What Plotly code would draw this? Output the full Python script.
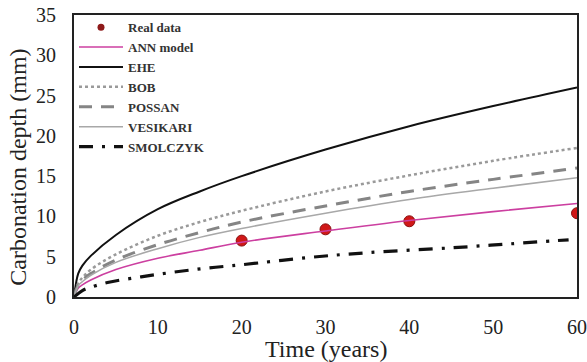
import plotly.graph_objects as go

# ---- data ----
real_t = [20, 30, 40, 60]
real_d = [7.0, 8.4, 9.4, 10.4]

model_t = [0, 0.5, 1, 2, 5, 10, 15, 20, 30, 40, 50, 60]
ann_d = [0, 1.1, 1.5, 2.1, 3.4, 4.8, 5.8, 6.8, 8.2, 9.5, 10.6, 11.6]
ehe_d = [0, 2.9, 3.9, 5.1, 7.7, 10.9, 13.1, 15.0, 18.3, 21.2, 23.7, 26.0]
bob_d = [0, 1.7, 2.4, 3.4, 5.3, 7.6, 9.3, 10.7, 13.1, 15.1, 16.9, 18.5]
possan_d = [0, 1.5, 2.1, 2.9, 4.6, 6.5, 8.0, 9.3, 11.3, 13.1, 14.6, 16.0]
vesikari_d = [0, 1.4, 1.9, 2.7, 4.3, 6.0, 7.4, 8.5, 10.4, 12.1, 13.5, 14.8]

smol_t = [0, 1, 2, 4, 8, 12, 16, 20, 28, 35, 45, 52, 59]
smol_d = [0, 0.8, 1.2, 1.8, 2.5, 3.1, 3.6, 4.0, 4.9, 5.5, 6.1, 6.6, 7.1]

x_ticks = [0, 10, 20, 30, 40, 50, 60]
y_ticks = [0, 5, 10, 15, 20, 25, 30, 35]

FONT = "Liberation Serif"

fig = go.Figure()
# legend entry for the measured points (small symbol, as in the reference legend)
fig.add_trace(go.Scatter(x=[None], y=[None], mode="markers", name="Real data",
                         marker=dict(size=7, color="#8e1a1a")))
fig.add_trace(go.Scatter(x=real_t, y=real_d, mode="markers", name="Real data",
                         showlegend=False,
                         marker=dict(size=11, color="#d01818",
                                     line=dict(color="#8a1010", width=1))))
fig.add_trace(go.Scatter(x=model_t, y=ann_d, mode="lines", name="ANN model",
                         line=dict(color="#cc3fa0", width=1.6, shape="spline")))
fig.add_trace(go.Scatter(x=model_t, y=ehe_d, mode="lines", name="EHE",
                         line=dict(color="#111111", width=2, shape="spline")))
fig.add_trace(go.Scatter(x=model_t, y=bob_d, mode="lines", name="BOB",
                         line=dict(color="#9a9a9a", width=2.5, dash="dot", shape="spline")))
fig.add_trace(go.Scatter(x=model_t, y=possan_d, mode="lines", name="POSSAN",
                         line=dict(color="#858585", width=3, dash="13px,9px", shape="spline")))
fig.add_trace(go.Scatter(x=model_t, y=vesikari_d, mode="lines", name="VESIKARI",
                         line=dict(color="#a8a8a8", width=1.5, shape="spline")))
fig.add_trace(go.Scatter(x=smol_t, y=smol_d, mode="lines", name="SMOLCZYK",
                         line=dict(color="#111111", width=3.2, dash="14px,9px,3px,9px",
                                   shape="spline")))

fig.update_layout(
    width=587, height=362,
    margin=dict(l=74, r=10, t=15, b=65, autoexpand=False),
    paper_bgcolor="white", plot_bgcolor="white",
    font=dict(family=FONT, color="#222222"),
    showlegend=True,
    hovermode=False,
    legend=dict(x=0.0, y=1.01, xanchor="left", yanchor="top",
                bgcolor="rgba(0,0,0,0)", borderwidth=0, itemwidth=44,
                font=dict(family=FONT, size=13, color="#333333", weight="bold"),
                tracegroupgap=0),
    xaxis=dict(range=[0, 60], tickvals=x_ticks, ticktext=[str(v) for v in x_ticks],
               automargin=False, ticklabeloverflow="allow",
               showgrid=False, zeroline=False, showline=True, linecolor="#222222",
               linewidth=2, mirror=True, ticks="outside", ticklen=11,
               tickcolor="rgba(0,0,0,0)", tickfont=dict(family=FONT, size=20, color="#222222")),
    yaxis=dict(range=[0, 35], tickvals=y_ticks, ticktext=[str(v) for v in y_ticks],
               automargin=False, ticklabeloverflow="allow",
               showgrid=False, zeroline=False, showline=True, linecolor="#222222",
               linewidth=2, mirror=True, ticks="outside", ticklen=12,
               tickcolor="rgba(0,0,0,0)", tickfont=dict(family=FONT, size=20, color="#222222")),
    annotations=[
        dict(text="Time (years)", xref="paper", yref="paper", x=0.5, y=-0.184,
             xanchor="center", yanchor="middle", showarrow=False,
             font=dict(family=FONT, size=24, color="#222222")),
        dict(text="Carbonation depth (mm)", xref="paper", yref="paper", x=-0.113, y=0.459,
             xanchor="center", yanchor="middle", textangle=-90, showarrow=False,
             font=dict(family=FONT, size=24, color="#222222")),
    ],
)

# remove the default page margin so the figure fills the window exactly
fig.write_html("out.html", config={"displayModeBar": False},
               post_script="document.body.style.margin='0';")
